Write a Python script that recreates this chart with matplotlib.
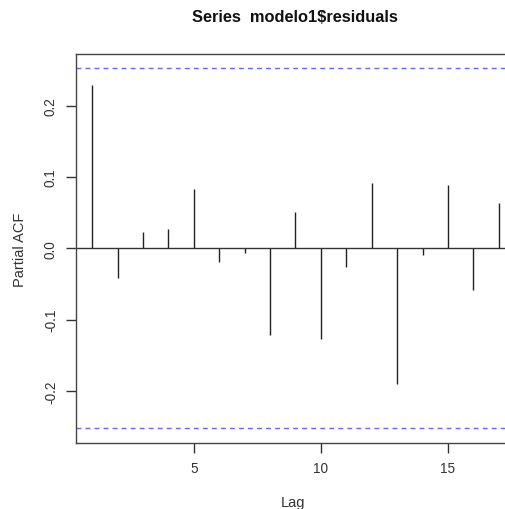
import matplotlib
matplotlib.use("Agg")
import matplotlib.pyplot as plt
import numpy as np

lags = list(range(1, 18))
pacf = [0.229, -0.041, 0.023, 0.027, 0.083, -0.019, -0.007, -0.121, 0.051,
        -0.127, -0.026, 0.092, -0.190, -0.009, 0.089, -0.058, 0.064]
conf = 0.2524
yticks = [-0.2, -0.1, 0.0, 0.1, 0.2]
yticklabels = ["-0.2", "-0.1", "0.0", "0.1", "0.2"]
xticks = [5, 10, 15]
xticklabels = ["5", "10", "15"]

plt.rcParams['font.family'] = ['Liberation Sans', 'DejaVu Sans']

W, H = 505, 510
fig = plt.figure(figsize=(W/100, H/100), dpi=100)
left, right, top, bottom = 76, 515, 55, 443.7
ax = fig.add_axes([left/W, 1-bottom/H, (right-left)/W, (bottom-top)/H])

ax.vlines(lags, 0, pacf, color='#222222', linewidth=1.0)
ax.axhline(0, color='#333333', linewidth=1.0)
ax.axhline(conf, color='#6666ff', linewidth=1.0, linestyle=(0, (3.5, 3)))
ax.axhline(-conf, color='#6666ff', linewidth=1.0, linestyle=(0, (3.5, 3)))

n = len(lags)
ax.set_xlim(1 - 0.04*(n-1), n + 0.04*(n-1))
ax.set_ylim(-conf*1.08, conf*1.08)

ax.set_xticks(xticks)
ax.set_xticklabels(xticklabels)
ax.set_yticks(yticks)
ax.set_yticklabels(yticklabels, rotation=90, va='center')
ax.tick_params(axis='both', direction='out', length=7, width=1, colors='#333333',
               labelsize=9.8, labelcolor='#333333', pad=6)
ax.tick_params(axis='y', pad=6)
for s in ax.spines.values():
    s.set_color('#444444')
    s.set_linewidth(1.0)

fig.text(295/W, 1-17/H, "Series  modelo1\\$residuals", ha='center', va='center',
         fontsize=11.8, fontweight='bold', color='#111111')
fig.text(293/W, 1-503/H, "Lag", ha='center', va='center', fontsize=10.5, color='#333333')
fig.text(20/W, 1-250/H, "Partial ACF", ha='center', va='center', rotation=90,
         fontsize=10.5, color='#333333')

fig.savefig("out.png", dpi=100)
